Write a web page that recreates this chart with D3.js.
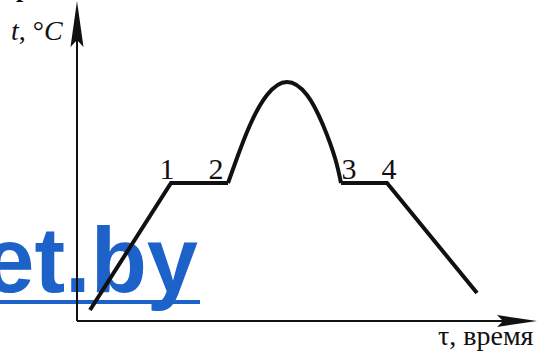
<!DOCTYPE html>
<html>
<head>
<meta charset="utf-8">
<script src="https://cdn.jsdelivr.net/npm/d3@7"></script>
<style>
  body { margin: 0; background: #fff; }
  svg { display: block; }
</style>
</head>
<body>
<svg id="chart" width="538" height="356"></svg>
<script>
// straight parts of the graph: time, temperature
const lineTimes = [1.3, 9.4, 15.1]
const lineTemps = [1.1, 13.8, 13.8]
const tailTimes = [26.4, 31.0, 40.0]
const tailTemps = [13.8, 13.8, 2.8]
// the hump between points 2 and 3
const arcTimes = [15.1, 16.0, 17.3, 19.0, 21.0, 23.0, 24.6, 25.8, 26.4]
const arcTemps = [13.8, 16.3, 19.6, 22.6, 23.9, 22.6, 19.6, 16.3, 13.8]
// numbered points
const pointLabels = ['1', '2', '3', '4']
const pointTimes = [9.4, 15.1, 26.4, 31.0]
const pointTemps = [13.8, 13.8, 13.8, 13.8]

function drawChart() {
  const svg = d3.select('#chart')
  const ox = 77, oy = 321

  const x = d3.scaleLinear().domain([0, 46]).range([ox, ox + 460])
  const y = d3.scaleLinear().domain([0, 31.9]).range([oy, oy - 319])

  // watermark
  svg.append('text')
    .attr('x', 198)
    .attr('y', 292)
    .attr('text-anchor', 'end')
    .attr('fill', '#1d62c9')
    .style('font-family', '"Liberation Sans", Arial, sans-serif')
    .style('font-weight', 700)
    .style('font-size', '92px')
    .text('et.by')
  svg.append('rect')
    .attr('x', 0).attr('y', 300)
    .attr('width', 200).attr('height', 4)
    .attr('fill', '#1d62c9')

  // cut off heading at the very top
  svg.append('text')
    .attr('x', 16).attr('y', -3)
    .style('font-family', '"Liberation Serif", serif')
    .style('font-weight', 700)
    .style('font-size', '26px')
    .text('р')

  // axes
  svg.append('line')
    .attr('x1', ox).attr('y1', oy)
    .attr('x2', ox).attr('y2', 30)
    .attr('stroke', '#111').attr('stroke-width', 2)
  svg.append('line')
    .attr('x1', ox).attr('y1', oy)
    .attr('x2', 510).attr('y2', oy)
    .attr('stroke', '#111').attr('stroke-width', 2)

  svg.append('path')
    .attr('d', `M${ox},1 L${ox + 6.5},47 L${ox},40 L${ox - 6.5},47 Z`)
    .attr('fill', '#111')
  svg.append('path')
    .attr('d', `M537,${oy} L497,${oy - 6} L503,${oy} L497,${oy + 6} Z`)
    .attr('fill', '#111')

  const serif = '"Liberation Serif", "Times New Roman", serif'

  const yTitle = svg.append('text')
    .attr('x', 11).attr('y', 40)
    .style('font-family', serif)
    .style('font-size', '28px')
    .attr('fill', '#111')
  yTitle.append('tspan').style('font-style', 'italic').text('t')
  yTitle.append('tspan').text(', °')
  yTitle.append('tspan').style('font-style', 'italic').text('C')

  svg.append('text')
    .attr('x', 438).attr('y', 345)
    .style('font-family', serif)
    .style('font-size', '28px')
    .attr('fill', '#111')
    .text('τ, время')

  // graph
  const line = d3.line()
    .x(d => x(d[0]))
    .y(d => y(d[1]))

  const lineData = d3.zip(lineTimes, lineTemps)
  const tailData = d3.zip(tailTimes, tailTemps)
  const arcData = d3.zip(arcTimes, arcTemps)

  ;[lineData, tailData].forEach(data => {
    svg.append('path')
      .attr('d', line(data))
      .attr('fill', 'none')
      .attr('stroke', '#111')
      .attr('stroke-width', 4)
      .attr('stroke-linejoin', 'miter')
  })

  svg.append('path')
    .attr('d', line.curve(d3.curveNatural)(arcData))
    .attr('fill', 'none')
    .attr('stroke', '#111')
    .attr('stroke-width', 4)

  const dx = [-4, -12, 8, 2]
  svg.selectAll('text.pt')
    .data(pointLabels)
    .join('text')
    .attr('class', 'pt')
    .attr('x', (d, i) => x(pointTimes[i]) + dx[i])
    .attr('y', (d, i) => y(pointTemps[i]) - 4)
    .attr('text-anchor', 'middle')
    .style('font-family', serif)
    .style('font-size', '30px')
    .attr('fill', '#111')
    .text(d => d)
}

document.addEventListener('DOMContentLoaded', drawChart, false)
</script>
</body>
</html>
